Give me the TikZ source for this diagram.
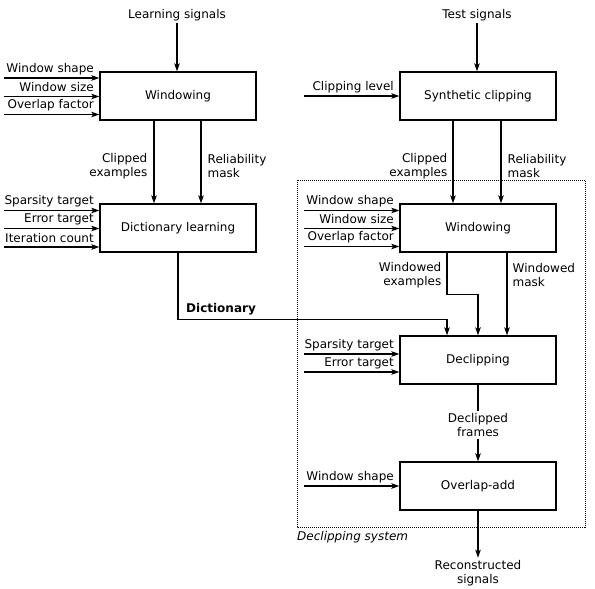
\documentclass[tikz,border=0pt]{standalone}
\usepackage{fontspec}
\setmainfont{DejaVu Sans}
\usetikzlibrary{arrows.meta}
\begin{document}
\begin{tikzpicture}[x=1pt,y=-1pt,
  font=\fontsize{12}{14.5}\selectfont,
  box/.style={draw, line width=1.3pt, minimum width=156pt, minimum height=48pt, inner sep=0pt},
  arr/.style={line width=1.25pt, -{Stealth[length=8pt,width=5.5pt,inset=1.8pt]}},
  ln/.style={line width=1.25pt},
  lbl/.style={inner sep=0pt},
  io/.style={inner sep=2pt, align=center}]
\useasboundingbox (0,0) rectangle (595,589);

% boxes
\node[box] (wl) at (178,96) {Windowing};
\node[box] (dl) at (178,228) {Dictionary learning};
\node[box] (sc) at (478,96) {Synthetic clipping};
\node[box] (wr) at (478,228) {Windowing};
\node[box] (dc) at (478,360) {Declipping};
\node[box] (oa) at (478,486) {Overlap-add};

% dotted system frame
\draw[line width=0.9pt, dash pattern=on 1pt off 1pt] (297,180) rectangle (585,527);
\node[lbl, anchor=north west] (sys) at (297,531) {\itshape Declipping system};

% top inputs
\node[io] (ls) at (177,15) {Learning signals};
\node[io] (ts) at (477,15) {Test signals};
\draw[arr] (ls.south) -- (ls.south |- wl.north);
\draw[arr] (ts.south) -- (ts.south |- sc.north);

% left windowing inputs
\coordinate (a1) at (4,78);
\coordinate (a2) at (4,96.5);
\coordinate (a3) at (4,114.5);
\draw[arr] (a1) -- (a1 -| wl.west);
\draw[arr] (a2) -- (a2 -| wl.west);
\draw[arr] (a3) -- (a3 -| wl.west);
\node[lbl, anchor=east] (ta1) at (94,69) {Window shape};
\node[lbl, anchor=east] (ta2) at (94,87.5) {Window size};
\node[lbl, anchor=east] (ta3) at (94,105.5) {Overlap factor};

% dictionary learning inputs
\coordinate (b1) at (4,210.5);
\coordinate (b2) at (4,228.5);
\coordinate (b3) at (4,247);
\draw[arr] (b1) -- (b1 -| dl.west);
\draw[arr] (b2) -- (b2 -| dl.west);
\draw[arr] (b3) -- (b3 -| dl.west);
\node[lbl, anchor=east] (tb1) at (94,201.5) {Sparsity target};
\node[lbl, anchor=east] (tb2) at (94,219.5) {Error target};
\node[lbl, anchor=east] (tb3) at (94,238) {Iteration count};

% left windowing -> dictionary learning
\draw[arr] ([xshift=-24pt]wl.south) -- ([xshift=-24pt]dl.north);
\draw[arr] ([xshift=23pt]wl.south) -- ([xshift=23pt]dl.north);
\node[lbl, anchor=east, align=right] (ce1) at (147.5,166) {Clipped\\examples};
\node[lbl, anchor=west, align=left] (rm1) at (207.5,166) {Reliability\\mask};

% clipping level
\coordinate (c1) at (304,96);
\draw[arr] (c1) -- (c1 -| sc.west);
\node[lbl, anchor=east] (tc1) at (394,87) {Clipping level};

% synthetic clipping -> right windowing
\draw[arr] ([xshift=-25pt]sc.south) -- ([xshift=-25pt]wr.north);
\draw[arr] ([xshift=23pt]sc.south) -- ([xshift=23pt]wr.north);
\node[lbl, anchor=east, align=right] (ce2) at (447.5,166) {Clipped\\examples};
\node[lbl, anchor=west, align=left] (rm2) at (507.5,166) {Reliability\\mask};

% right windowing inputs
\coordinate (d1) at (304,210.5);
\coordinate (d2) at (304,228.5);
\coordinate (d3) at (304,246.5);
\draw[arr] (d1) -- (d1 -| wr.west);
\draw[arr] (d2) -- (d2 -| wr.west);
\draw[arr] (d3) -- (d3 -| wr.west);
\node[lbl, anchor=east] (td1) at (394,201.5) {Window shape};
\node[lbl, anchor=east] (td2) at (394,219.5) {Window size};
\node[lbl, anchor=east] (td3) at (394,237.5) {Overlap factor};

% dictionary to declipping
\draw[arr] (dl.south) -- ++(0,66.5) -| ([xshift=-31pt]dc.north);
\node[lbl, anchor=west] (dict) at (186,309) {\bfseries Dictionary};

% right windowing -> declipping
\draw[arr] ([xshift=-31pt]wr.south) -- ++(0,42) -| (dc.north);
\draw[arr] ([xshift=29pt]wr.south) -- ([xshift=29pt]dc.north);
\node[lbl, anchor=east, align=right] (we) at (441.5,275) {Windowed\\examples};
\node[lbl, anchor=west, align=left] (wm) at (512.5,275) {Windowed\\mask};

% declipping inputs
\coordinate (e1) at (304,354);
\coordinate (e2) at (304,372);
\draw[arr] (e1) -- (e1 -| dc.west);
\draw[arr] (e2) -- (e2 -| dc.west);
\node[lbl, anchor=east] (te1) at (394,345) {Sparsity target};
\node[lbl, anchor=east] (te2) at (394,363) {Error target};

% declipping -> overlap-add
\node[io] (df) at (478,425) {Declipped\\frames};
\draw[ln] (dc.south) -- (df.north);
\draw[arr] (df.south) -- (oa.north);

% overlap-add input
\coordinate (f1) at (304,486);
\draw[arr] (f1) -- (f1 -| oa.west);
\node[lbl, anchor=east] (tf1) at (394,477) {Window shape};

% output
\node[io] (rs) at (478,573) {Reconstructed\\signals};
\draw[arr] (oa.south) -- (rs.north);
\end{tikzpicture}
\end{document}
